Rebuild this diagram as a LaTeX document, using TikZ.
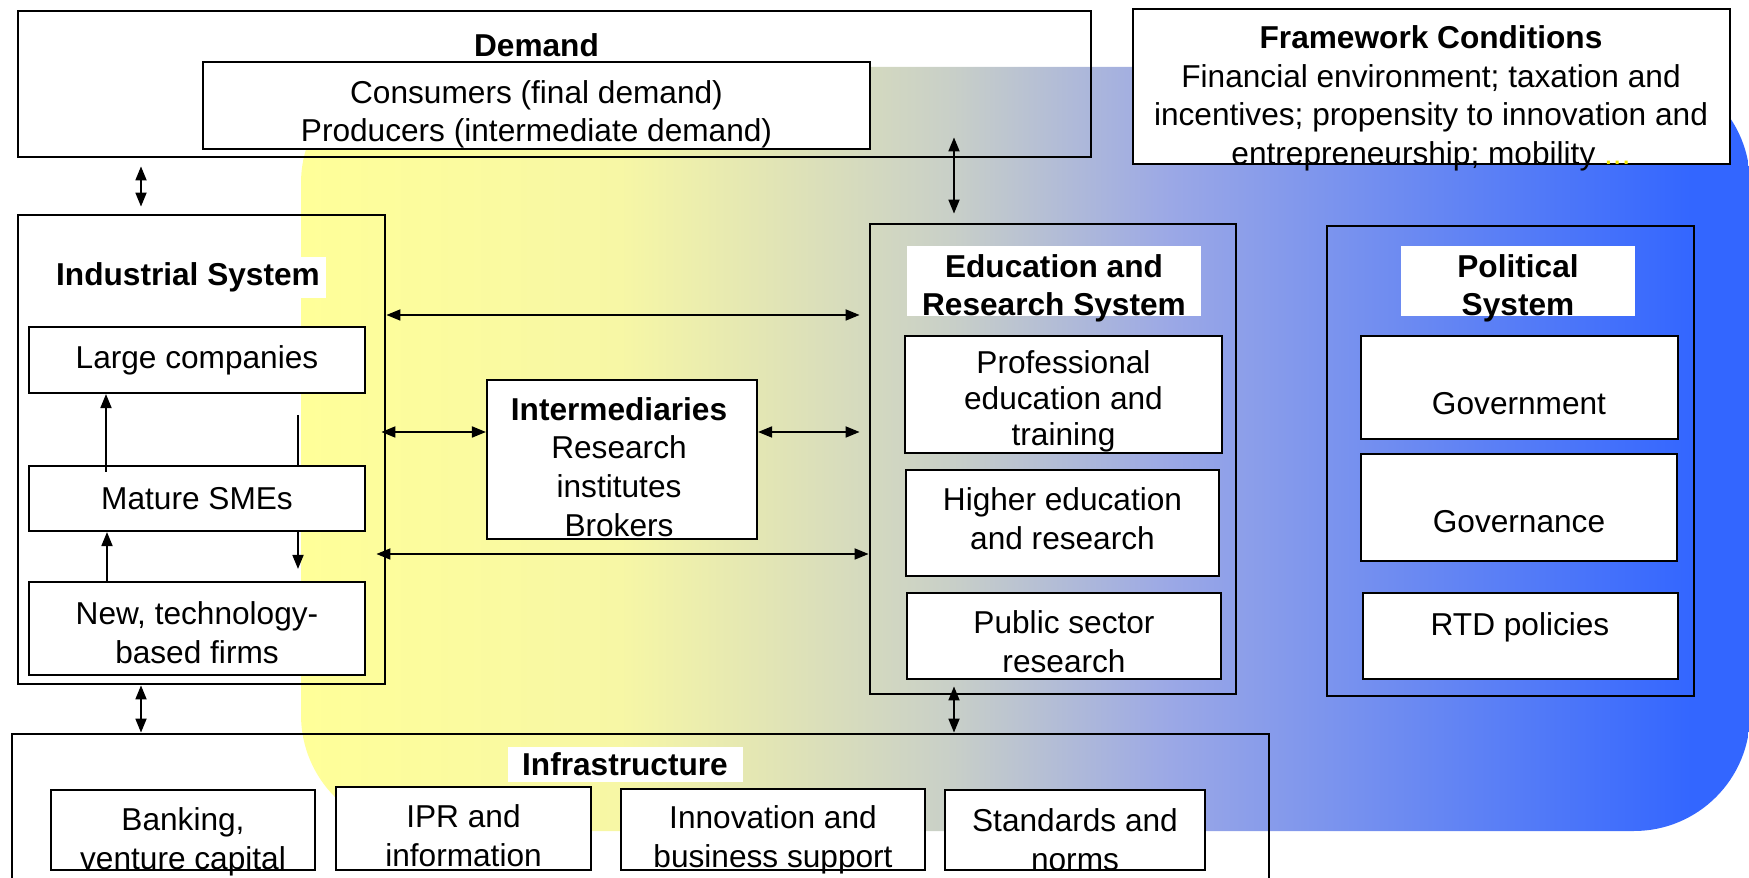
\documentclass[tikz,border=0pt]{standalone}
\usepackage{fontspec}
\setmainfont{Liberation Sans}
\usetikzlibrary{arrows.meta,calc,positioning}

\definecolor{bgyellow}{RGB}{255,255,153}
\definecolor{bgcream}{RGB}{247,247,165}
\definecolor{bggray}{RGB}{200,207,200}
\definecolor{bglav}{RGB}{155,168,230}
\definecolor{bgblue}{RGB}{51,102,255}
\definecolor{dotyellow}{RGB}{240,230,0}
\pgfdeclarehorizontalshading{sysbg}{100bp}{color(0bp)=(bgyellow); color(25bp)=(bgyellow); color(36bp)=(bgcream); color(47.5bp)=(bggray); color(55bp)=(bglav); color(73bp)=(bgblue); color(100bp)=(bgblue)}

\begin{document}
\begin{tikzpicture}[>={Triangle[length=1.4mm,width=1.1mm]},
  frame/.style={draw=black, line width=0.8pt, inner sep=0pt},
  box/.style={draw=black, line width=0.6pt, fill=white, inner sep=0pt, align=center, font=\fontsize{9}{11}\selectfont},
  title/.style={fill=white, inner sep=0pt, align=center, font=\fontsize{9}{11}\selectfont\bfseries},
  txt/.style={inner sep=0pt, align=center, font=\fontsize{9}{11}\selectfont},
  link/.style={<->, line width=0.5pt},
  up/.style={->, line width=0.5pt}]
\useasboundingbox (0,0) rectangle (17.49,-8.78);

% shaded background
\shade[shading=sysbg, rounded corners=1.16cm] (3.01,-0.67) rectangle (17.50,-8.31);

% demand and framework conditions
\node[frame, minimum width=10.73cm, minimum height=1.46cm] (demand) at (5.545,-0.84) {};
\node[title, fill=none] (demand-t) at (5.365,-0.45) {Demand};
\node[box, minimum width=6.67cm, minimum height=0.87cm] (cons) at (5.365,-1.055) {};
\node[txt] (cons-t) at (5.365,-1.144) {Consumers (final demand)\\Producers (intermediate demand)};
\node[frame, fill=white, minimum width=5.97cm, minimum height=1.55cm] (fw) at (14.315,-0.865) {};
\node[txt] (fw-t) at (14.31,-0.983) {\textbf{Framework Conditions}\\Financial environment; taxation and\\incentives; propensity to innovation and\\entrepreneurship; mobility \textcolor{dotyellow}{...}};

% industrial system
\node[frame, minimum width=3.67cm, minimum height=4.69cm] (ind) at (2.015,-4.495) {};
\node[title, inner sep=0.6mm] (ind-t) at (1.88,-2.773) {Industrial System};
\coordinate (drop) at (2.98,-4.15);
\draw[line width=0.5pt] (drop) -- (drop |- 0,-4.66);
\node[box, minimum width=3.36cm, minimum height=0.66cm] (large) at (1.97,-3.60) {Large companies};
\node[box, minimum width=3.36cm, minimum height=0.65cm] (mature) at (1.97,-4.985) {Mature SMEs};
\node[box, minimum width=3.36cm, minimum height=0.93cm] (newf) at (1.97,-6.285) {};
\node[txt] (newf-t) at (1.97,-6.33) {New, technology-\\based firms};
\draw[up, shorten <=-0.07cm] (mature.north -| 1.06,0) -- (large.south -| 1.06,0);
\draw[up] (newf.north -| 1.07,0) -- (mature.south -| 1.07,0);
\draw[up, shorten >=0.12cm] (mature.south -| drop) -- (newf.north -| drop);

% intermediaries
\node[box, minimum width=2.70cm, minimum height=1.59cm] (inter) at (6.22,-4.595) {};
\node[txt] (inter-t) at (6.19,-4.67) {\textbf{Intermediaries}\\Research\\institutes\\Brokers};

% education and research system
\node[frame, minimum width=3.66cm, minimum height=4.70cm] (edu) at (10.53,-4.59) {};
\node[title, minimum width=2.94cm, minimum height=0.70cm] (edu-bg) at (10.54,-2.81) {};
\node[title, fill=none] (edu-t) at (10.54,-2.883) {Education and\\Research System};
\node[box, minimum width=3.17cm, minimum height=1.17cm] (prof) at (10.635,-3.945) {};
\node[txt, font=\fontsize{9}{10.2}\selectfont] (prof-t) at (10.635,-4.01) {Professional\\education and\\training};
\node[box, minimum width=3.13cm, minimum height=1.06cm] (higher) at (10.625,-5.23) {};
\node[txt] (higher-t) at (10.625,-5.186) {Higher education\\and research};
\node[box, minimum width=3.14cm, minimum height=0.86cm] (pub) at (10.64,-6.36) {};
\node[txt] (pub-t) at (10.64,-6.42) {Public sector\\research};

% political system
\node[frame, minimum width=3.67cm, minimum height=4.70cm] (pol) at (15.105,-4.61) {};
\node[title, minimum width=2.34cm, minimum height=0.70cm] (pol-bg) at (15.18,-2.81) {};
\node[title, fill=none] (pol-t) at (15.18,-2.883) {Political\\System};
\node[box, minimum width=3.17cm, minimum height=1.03cm] (gov) at (15.195,-3.875) {};
\node[txt] (gov-t) at (15.19,-4.04) {Government};
\node[box, minimum width=3.16cm, minimum height=1.07cm] (gvn) at (15.19,-5.075) {};
\node[txt] (gvn-t) at (15.19,-5.22) {Governance};
\node[box, minimum width=3.15cm, minimum height=0.86cm] (rtd) at (15.205,-6.36) {};
\node[txt] (rtd-t) at (15.20,-6.27) {RTD policies};

% infrastructure
\node[frame, minimum width=12.57cm, minimum height=1.66cm] (infra) at (6.405,-8.17) {};
\node[title, minimum width=2.35cm, minimum height=0.35cm] (infra-t) at (6.25,-7.64) {Infrastructure};
\node[box, minimum width=2.64cm, minimum height=0.80cm] (bank) at (1.83,-8.30) {};
\node[txt] (bank-t) at (1.83,-8.417) {Banking,\\venture capital};
\node[box, minimum width=2.55cm, minimum height=0.83cm] (ipr) at (4.635,-8.285) {};
\node[txt] (ipr-t) at (4.635,-8.358) {IPR and\\information};
\node[box, minimum width=3.04cm, minimum height=0.81cm] (innov) at (7.73,-8.295) {};
\node[txt] (innov-t) at (7.73,-8.40) {Innovation and\\business support};
\node[box, minimum width=2.60cm, minimum height=0.80cm] (stand) at (10.75,-8.30) {};
\node[txt] (stand-t) at (10.75,-8.397) {Standards and\\norms};

% links between the systems
\draw[link, shorten <=0.08cm, shorten >=0.07cm] (demand.south -| 1.41,0) -- (ind.north -| 1.41,0);
\draw[link, shorten <=0.09cm, shorten >=-0.21cm] (edu.north -| 9.54,0) -- (demand.south -| 9.54,0);
\draw[link, shorten >=0.09cm] (ind.east |- 0,-3.15) -- (edu.west |- 0,-3.15);
\draw[link, shorten <=-0.05cm] (ind.east |- 0,-4.32) -- (inter.west |- 0,-4.32);
\draw[link, shorten >=0.09cm] (inter.east |- 0,-4.32) -- (edu.west |- 0,-4.32);
\draw[link, shorten <=-0.10cm] (ind.east |- 0,-5.54) -- (edu.west |- 0,-5.54);
\draw[link] (ind.south -| 1.41,0) -- (infra.north -| 1.41,0);
\draw[link, shorten <=-0.09cm] (edu.south -| 9.54,0) -- (infra.north -| 9.54,0);
\end{tikzpicture}
\end{document}
